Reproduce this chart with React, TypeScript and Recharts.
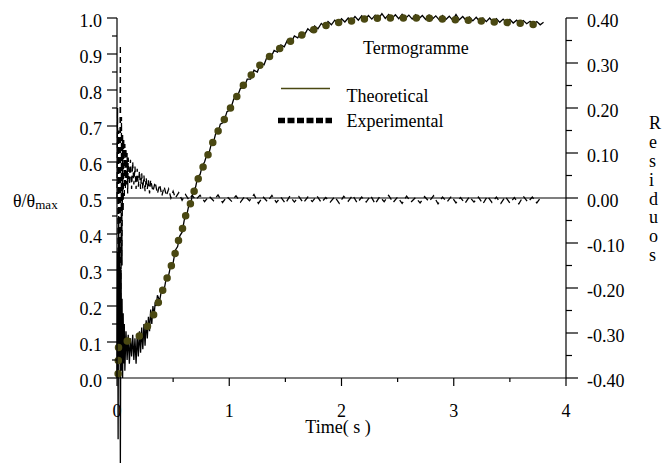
import { LineChart, Line, XAxis, YAxis, ReferenceLine } from "recharts";

// theoretical curve (olive, drawn as big dots)
const theoTime = [0.01, 0.015, 0.11, 0.22, 0.29, 0.345, 0.386, 0.43, 0.47, 0.51, 0.54, 0.58, 0.61, 0.655, 0.69, 0.73, 0.78, 0.825, 0.87, 0.93, 0.99, 1.05, 1.115, 1.2, 1.28, 1.375, 1.47, 1.58, 1.695, 1.81, 1.93, 2.05, 2.17, 2.29, 2.42, 2.54, 2.67, 2.79, 2.93, 3.04, 3.18, 3.3, 3.42, 3.55, 3.67, 3.79];
const theoValue = [0.012, 0.095, 0.105, 0.122, 0.154, 0.189, 0.226, 0.263, 0.299, 0.337, 0.374, 0.411, 0.449, 0.485, 0.522, 0.559, 0.596, 0.631, 0.667, 0.703, 0.738, 0.772, 0.808, 0.843, 0.871, 0.897, 0.92, 0.942, 0.96, 0.974, 0.985, 0.99, 0.996, 0.999, 1.0, 1.0, 1.0, 0.999, 0.997, 0.995, 0.993, 0.99, 0.988, 0.986, 0.983, 0.979];

// experimental signal (thin black, noisy)
const expTime = [0, 0.005, 0.01, 0.015, 0.02, 0.025, 0.03, 0.035, 0.04, 0.045, 0.05, 0.055, 0.06, 0.065, 0.07, 0.08, 0.09, 0.1, 0.11, 0.12, 0.13, 0.14, 0.15, 0.16, 0.17, 0.18, 0.19, 0.2, 0.21, 0.22, 0.23, 0.24, 0.25, 0.26, 0.27, 0.28, 0.29, 0.3, 0.31, 0.32, 0.33, 0.34, 0.35, 0.36, 0.38, 0.4, 0.42, 0.44, 0.46, 0.48, 0.5, 0.52, 0.54, 0.56, 0.58, 0.6, 0.62, 0.64, 0.66, 0.68, 0.7, 0.72, 0.74, 0.76, 0.78, 0.8, 0.82, 0.84, 0.86, 0.88, 0.9, 0.92, 0.95, 0.98, 1.01, 1.04, 1.07, 1.1, 1.13, 1.16, 1.19, 1.22, 1.25, 1.28, 1.31, 1.34, 1.37, 1.4, 1.43, 1.46, 1.49, 1.52, 1.55, 1.58, 1.61, 1.64, 1.67, 1.7, 1.73, 1.76, 1.79, 1.82, 1.85, 1.88, 1.91, 1.94, 1.97, 2.0, 2.03, 2.06, 2.09, 2.12, 2.15, 2.18, 2.21, 2.24, 2.27, 2.3, 2.33, 2.36, 2.39, 2.42, 2.45, 2.48, 2.51, 2.54, 2.57, 2.6, 2.63, 2.66, 2.69, 2.72, 2.75, 2.78, 2.81, 2.84, 2.87, 2.9, 2.93, 2.96, 2.99, 3.02, 3.05, 3.08, 3.11, 3.14, 3.17, 3.2, 3.23, 3.26, 3.29, 3.32, 3.35, 3.38, 3.41, 3.44, 3.47, 3.5, 3.53, 3.56, 3.59, 3.62, 3.65, 3.68, 3.71, 3.74, 3.77, 3.8];
const expValue = [0.0, 0.35, -0.17, 0.45, 0.05, 0.38, -0.236, 0.3, 0.02, 0.22, 0.0, 0.18, 0.04, 0.15, 0.02, 0.13, 0.05, 0.12, 0.04, 0.11, 0.06, 0.12, 0.05, 0.11, 0.04, 0.12, 0.06, 0.13, 0.07, 0.14, 0.08, 0.15, 0.09, 0.16, 0.11, 0.17, 0.13, 0.19, 0.15, 0.2, 0.17, 0.21, 0.2, 0.23, 0.215, 0.25, 0.245, 0.28, 0.285, 0.315, 0.32, 0.355, 0.365, 0.395, 0.405, 0.44, 0.45, 0.48, 0.49, 0.52, 0.53, 0.56, 0.565, 0.59, 0.6, 0.62, 0.625, 0.65, 0.655, 0.68, 0.68, 0.705, 0.71, 0.74, 0.745, 0.775, 0.78, 0.805, 0.805, 0.83, 0.83, 0.855, 0.85, 0.875, 0.87, 0.895, 0.89, 0.91, 0.905, 0.925, 0.92, 0.94, 0.93, 0.95, 0.945, 0.96, 0.953, 0.97, 0.962, 0.978, 0.97, 0.985, 0.976, 0.99, 0.981, 0.994, 0.986, 0.998, 0.989, 1.0, 0.992, 1.004, 0.994, 1.006, 0.996, 1.007, 0.997, 1.008, 0.998, 1.012, 0.999, 1.01, 0.999, 1.009, 0.998, 1.01, 0.999, 1.008, 0.997, 1.009, 0.998, 1.007, 0.996, 1.008, 0.997, 1.006, 0.995, 1.007, 0.996, 1.005, 0.994, 1.01, 0.995, 1.004, 0.993, 1.003, 0.992, 1.002, 0.991, 1.0, 0.99, 1.0, 0.989, 0.998, 0.988, 0.997, 0.987, 0.996, 0.986, 0.994, 0.985, 0.993, 0.984, 0.991, 0.983, 0.99, 0.981, 0.988];

// residuals (dashed black, right axis)
const resTime = [0, 0.005, 0.01, 0.015, 0.02, 0.03, 0.035, 0.04, 0.045, 0.05, 0.055, 0.06, 0.065, 0.07, 0.075, 0.08, 0.085, 0.09, 0.095, 0.1, 0.11, 0.12, 0.13, 0.14, 0.15, 0.16, 0.17, 0.18, 0.19, 0.2, 0.21, 0.22, 0.23, 0.24, 0.25, 0.26, 0.27, 0.28, 0.29, 0.3, 0.32, 0.34, 0.36, 0.38, 0.4, 0.42, 0.44, 0.46, 0.48, 0.5, 0.52, 0.55, 0.58, 0.61, 0.64, 0.67, 0.7, 0.74, 0.78, 0.82, 0.86, 0.9, 0.94, 0.98, 1.02, 1.06, 1.1, 1.14, 1.18, 1.22, 1.26, 1.3, 1.34, 1.38, 1.42, 1.46, 1.5, 1.54, 1.58, 1.62, 1.66, 1.7, 1.74, 1.78, 1.82, 1.86, 1.9, 1.94, 1.98, 2.02, 2.06, 2.1, 2.14, 2.18, 2.22, 2.26, 2.3, 2.34, 2.38, 2.42, 2.46, 2.5, 2.54, 2.58, 2.62, 2.66, 2.7, 2.74, 2.78, 2.82, 2.86, 2.9, 2.94, 2.98, 3.02, 3.06, 3.1, 3.14, 3.18, 3.22, 3.26, 3.3, 3.34, 3.38, 3.42, 3.46, 3.5, 3.54, 3.58, 3.62, 3.66, 3.7, 3.74, 3.78];
const resValue = [0, 0.2, -0.25, 0.15, -0.35, 0.34, -0.3, 0.18, -0.15, 0.14, -0.03, 0.13, 0.0, 0.12, 0.02, 0.11, 0.03, 0.1, 0.01, 0.09, 0.03, 0.085, 0.02, 0.08, 0.03, 0.07, 0.02, 0.065, 0.025, 0.06, 0.02, 0.055, 0.02, 0.05, 0.015, 0.045, 0.02, 0.04, 0.01, 0.04, 0.015, 0.035, 0.01, 0.03, 0.005, 0.025, 0.005, 0.02, 0.0, 0.015, 0.0, 0.012, -0.005, 0.008, -0.004, 0.006, -0.004, 0.006, -0.008, 0.004, -0.006, 0.007, -0.01, 0.003, -0.007, 0.005, -0.009, 0.004, -0.006, 0.008, -0.012, 0.003, -0.008, 0.006, -0.01, 0.002, -0.012, 0.004, -0.009, 0.003, -0.011, 0.002, -0.008, 0.005, -0.01, 0.001, -0.009, 0.003, -0.012, 0.004, -0.007, 0.006, -0.011, 0.002, -0.009, 0.005, -0.013, 0.003, -0.008, 0.006, -0.01, 0.002, -0.012, 0.004, -0.009, 0.001, -0.011, 0.003, -0.008, 0.005, -0.013, 0.002, -0.009, 0.004, -0.011, 0.001, -0.012, 0.003, -0.009, 0.002, -0.013, 0.004, -0.01, 0.002, -0.012, 0.003, -0.011, 0.001, -0.013, 0.004, -0.009, 0.002, -0.011, 0.003];

const xTicks = [0, 0.5, 1, 1.5, 2, 2.5, 3, 3.5, 4];
const leftTicks = [0, 0.05, 0.1, 0.15, 0.2, 0.25, 0.3, 0.35, 0.4, 0.45, 0.5, 0.55, 0.6, 0.65, 0.7, 0.75, 0.8, 0.85, 0.9, 0.95, 1];
const rightTicks = [-0.4, -0.35, -0.3, -0.25, -0.2, -0.15, -0.1, -0.05, 0, 0.05, 0.1, 0.15, 0.2, 0.25, 0.3, 0.35, 0.4];
const residLetters = ["R", "e", "s", "i", "d", "u", "o", "s"];

const theoData = theoTime.map((t, i) => ({ t, v: theoValue[i] }));
const expData = expTime.map((t, i) => ({ t, v: expValue[i] }));
const resData = resTime.map((t, i) => ({ t, r: resValue[i] }));

const FONT = "'Liberation Serif', 'Times New Roman', serif";
const OLIVE = "#4a4812";

const isMajor = (v: number, step: number) => Math.abs(v / step - Math.round(v / step)) < 1e-6;

const XTick = (props: any) => {
  const { x, y, payload } = props;
  const major = isMajor(payload.value, 1);
  return (
    <g>
      <line x1={x} x2={x} y1={y} y2={y + (major ? 8 : 4)} stroke="#000" strokeWidth={1.2} />
      {major && (
        <text x={x} y={y + 38.5} textAnchor="middle" fontFamily={FONT} fontSize={18} fill="#000">
          {payload.value}
        </text>
      )}
    </g>
  );
};

const LeftTick = (props: any) => {
  const { x, y, payload } = props;
  const major = isMajor(payload.value, 0.1);
  return (
    <g>
      <line x1={x - (major ? 10 : 5)} x2={x} y1={y} y2={y} stroke="#000" strokeWidth={1.2} />
      {major && (
        <text x={x - 15} y={y + 8.5} textAnchor="end" fontFamily={FONT} fontSize={18} fill="#000">
          {payload.value.toFixed(1)}
        </text>
      )}
    </g>
  );
};

const RightTick = (props: any) => {
  const { x, y, payload } = props;
  const major = isMajor(payload.value, 0.1);
  const v = payload.value;
  return (
    <g>
      <line x1={x} x2={x + (major ? 12 : 6)} y1={y} y2={y} stroke="#000" strokeWidth={1.2} />
      {major && (
        <text x={x + 21} y={y + 8.7} textAnchor="start" fontFamily={FONT} fontSize={18} fill="#000">
          {Math.abs(v) < 1e-9 ? "0.00" : v.toFixed(2)}
        </text>
      )}
    </g>
  );
};

export default function App() {
  return (
    <div style={{ position: "absolute", left: 0, top: 0, width: 666, height: 464, background: "#fff" }}>
      {/* the lines run past the plot edges in the original, so drop the clip */}
      <style>{`.recharts-surface *, .noclip, .noclip * { clip-path: none !important; }`}</style>
      <LineChart width={666} height={464} margin={{ top: 18, right: 40, left: 57, bottom: 56 }}>
        <XAxis
          type="number"
          dataKey="t"
          domain={[0, 4]}
          ticks={xTicks}
          interval={0}
          height={30}
          tickSize={0}
          tickMargin={0}
          tickLine={false}
          tick={(p: any) => <XTick {...p} />}
          stroke="#000"
          strokeWidth={1.2}
        />
        <YAxis
          yAxisId="left"
          type="number"
          domain={[0, 1]}
          ticks={leftTicks}
          interval={0}
          width={60}
          tickSize={0}
          tickMargin={0}
          tickLine={false}
          allowDataOverflow
          tick={(p: any) => <LeftTick {...p} />}
          stroke="#000"
          strokeWidth={1.2}
        />
        <YAxis
          yAxisId="right"
          orientation="right"
          type="number"
          domain={[-0.4, 0.4]}
          ticks={rightTicks}
          interval={0}
          width={60}
          tickSize={0}
          tickMargin={0}
          tickLine={false}
          allowDataOverflow
          tick={(p: any) => <RightTick {...p} />}
          stroke="#000"
          strokeWidth={1.2}
        />
        <ReferenceLine yAxisId="right" y={0} stroke="#000" strokeWidth={1.2} />
        <Line
          yAxisId="left"
          data={expData}
          dataKey="v"
          type="linear"
          stroke="#000"
          strokeWidth={1.3}
          dot={false}
          className="noclip"
          isAnimationActive={false}
        />
        <Line
          yAxisId="right"
          data={resData}
          dataKey="r"
          type="linear"
          stroke="#000"
          strokeWidth={1.3}
          strokeDasharray="6 4"
          dot={false}
          className="noclip"
          isAnimationActive={false}
        />
        <Line
          yAxisId="left"
          data={theoData}
          dataKey="v"
          type="monotone"
          stroke={OLIVE}
          strokeWidth={7.5}
          strokeDasharray="0 13"
          strokeLinecap="round"
          dot={false}
          className="noclip"
          isAnimationActive={false}
        />
      </LineChart>
      <svg
        width={666}
        height={464}
        style={{ position: "absolute", left: 0, top: 0, pointerEvents: "none" }}
        fontFamily={FONT}
        fontSize={18}
        fill="#000"
      >
        <text x={13} y={206.5}>
          θ/θ<tspan fontSize={13} dy={2}>max</tspan>
        </text>
        {residLetters.map((c, i) => (
          <text key={i} x={649} y={129.3 + i * 18.8}>
            {c}
          </text>
        ))}
        <text x={338} y={433} textAnchor="middle">
          Time( s )
        </text>
        <text x={363} y={54}>Termogramme</text>
        <line x1={281} x2={330} y1={88.5} y2={88.5} stroke={OLIVE} strokeWidth={1.6} />
        <text x={346.5} y={101.5}>Theoretical</text>
        <line x1={278} x2={332} y1={120.5} y2={120.5} stroke="#000" strokeWidth={5.5} strokeDasharray="7 2.5" />
        <text x={346.5} y={127}>Experimental</text>
      </svg>
    </div>
  );
}
